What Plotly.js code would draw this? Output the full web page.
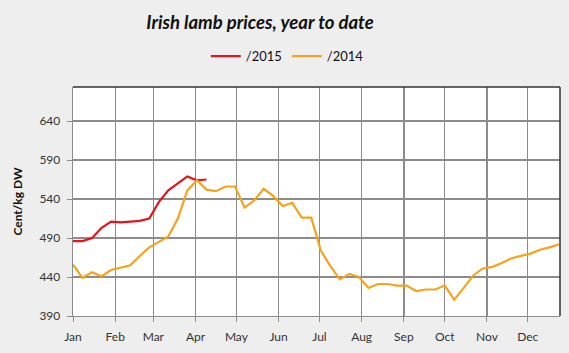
<!DOCTYPE html>
<html>
<head>
<meta charset="utf-8">
<script src="https://cdn.plot.ly/plotly-3.0.1.min.js"></script>
<style>html,body{margin:0;padding:0;background:#eeeeee;}#chart{width:569px;height:353px;}</style>
</head>
<body>
<div id="chart"></div>
<script>
var weeks = ['2014-01-01','2014-01-08','2014-01-15','2014-01-22','2014-01-29',
  '2014-02-05','2014-02-12','2014-02-19','2014-02-26',
  '2014-03-05','2014-03-12','2014-03-19','2014-03-26',
  '2014-04-02','2014-04-09','2014-04-16','2014-04-23','2014-04-30',
  '2014-05-07','2014-05-14','2014-05-21','2014-05-28',
  '2014-06-04','2014-06-11','2014-06-18','2014-06-25',
  '2014-07-02','2014-07-09','2014-07-16','2014-07-23','2014-07-30',
  '2014-08-06','2014-08-13','2014-08-20','2014-08-27',
  '2014-09-03','2014-09-10','2014-09-17','2014-09-24',
  '2014-10-01','2014-10-08','2014-10-15','2014-10-22','2014-10-29',
  '2014-11-05','2014-11-12','2014-11-19','2014-11-26',
  '2014-12-03','2014-12-10','2014-12-17','2014-12-24'];
var prices2015 = [486,486,490,503,511,510,511,512,515,536,551,560,569,564,565];
var prices2014 = [456,439,446,441,449,452,455,467,478,485,492,515,551,564,552,550,556,556,529,538,553,544,531,535,516,516,
  474,454,437,444,440,426,431,431,429,429,422,424,424,429,411,426,442,451,453,458,464,467,470,475,478,482];
var yTicks = [390,440,490,540,590,640];
var series = [
  {name:'/2015', x: weeks.slice(0, prices2015.length), y: prices2015, color:'#e3141c'},
  {name:'/2014', x: weeks, y: prices2014, color:'#f5a31e'}
];
var traces = series.map(function(s){
  return {type:'scatter', mode:'lines', name:s.name, x:s.x, y:s.y,
    line:{color:s.color, width:2.2}, hoverinfo:'none'};
});
var font = 'Lato, "Open Sans", "DejaVu Sans", sans-serif';
var layout = {
  width:569, height:353,
  paper_bgcolor:'#eeeeee', plot_bgcolor:'#ffffff',
  margin:{l:73, r:9, t:87, b:37},
  font:{family:font, size:12, color:'#222'},
  title:{text:'<b><i>Irish lamb prices, year to date</i></b>', x:0.457, xanchor:'center', y:0.935, yanchor:'middle',
    font:{family:font, size:18.5, color:'#111'}},
  showlegend:true,
  legend:{orientation:'h', x:0.44, xanchor:'center', y:1.135, yanchor:'middle',
    font:{size:13, color:'#111'}, bgcolor:'rgba(0,0,0,0)', tracegroupgap:0},
  xaxis:{type:'date', range:['2014-01-01','2014-12-24 16:00'], tick0:'2014-01-01', dtick:'M1', tickformat:'%b',
    showgrid:true, gridcolor:'#8c8c8c', gridwidth:1.3, ticks:'outside', ticklen:5, tickcolor:'#8c8c8c',
    ticklabelstandoff:4,
    showline:true, linecolor:'#8c8c8c', linewidth:1.3, zeroline:false, tickfont:{size:12, color:'#333'}},
  yaxis:{range:[390,683.6], tickvals:yTicks, ticktext:yTicks.map(String),
    showgrid:true, gridcolor:'#8c8c8c', gridwidth:1.3, ticks:'outside', ticklen:5, tickcolor:'#8c8c8c',
    ticklabelstandoff:4,
    showline:true, linecolor:'#8c8c8c', linewidth:1.3, zeroline:false, tickfont:{size:12, color:'#333'},
    title:{text:'<b>Cent/kg DW</b>', font:{size:12, color:'#111'}, standoff:14}},
  shapes:[
    {type:'line', xref:'paper', yref:'paper', x0:0, x1:1, y0:1, y1:1, line:{color:'#333', width:1.5}},
    {type:'line', xref:'paper', yref:'paper', x0:1, x1:1, y0:0, y1:1, line:{color:'#333', width:1.5}}
  ]
};
Plotly.newPlot('chart', traces, layout, {staticPlot:true, displayModeBar:false});
</script>
</body>
</html>
